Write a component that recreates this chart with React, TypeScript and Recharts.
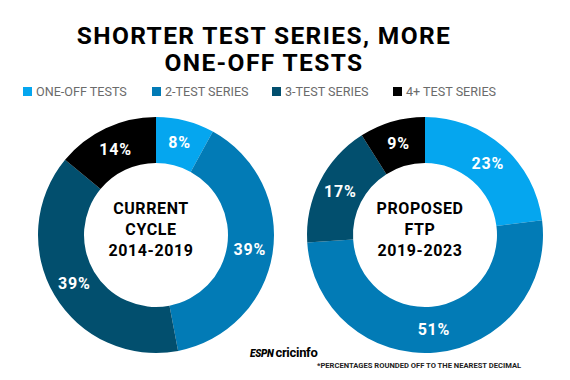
import { Pie, PieChart, Cell } from 'recharts';

const CATEGORIES = ['ONE-OFF TESTS', '2-TEST SERIES', '3-TEST SERIES', '4+ TEST SERIES'];
const COLORS = ['#05a6ef', '#027bb6', '#024f6e', '#000000'];
const CURRENT_SHARE = [8, 39, 39, 14];
const PROPOSED_SHARE = [23, 51, 17, 9];
const CURRENT_TITLE = ['CURRENT', 'CYCLE', '2014-2019'];
const PROPOSED_TITLE = ['PROPOSED', 'FTP', '2019-2023'];

const FONT = 'Roboto, "Noto Sans", sans-serif';

const currentData = CATEGORIES.map((name, i) => ({ name, value: CURRENT_SHARE[i] }));
const proposedData = CATEGORIES.map((name, i) => ({ name, value: PROPOSED_SHARE[i] }));

const RAD = Math.PI / 180;
const CY = 230;
const LEFT_CX = 151;
const RIGHT_CX = 420;

function sliceLabel(props: any) {
  const { cx, cy, midAngle, innerRadius, outerRadius, value } = props;
  const r = (innerRadius + outerRadius) / 2;
  const x = cx + r * Math.cos(-midAngle * RAD);
  const y = cy + r * Math.sin(-midAngle * RAD);
  return (
    <text
      x={x}
      y={y}
      fill="#fff"
      textAnchor="middle"
      dominantBaseline="central"
      fontFamily={FONT}
      fontWeight={700}
      fontSize={16}
      letterSpacing={0.8}
    >
      {value}%
    </text>
  );
}

function CenterTitle({ lines, cx }: { lines: string[]; cx: number }) {
  return (
    <div
      style={{
        position: 'absolute',
        left: cx - 70,
        width: 140,
        top: CY - 32,
        textAlign: 'center',
        fontSize: 16,
        fontWeight: 700,
        lineHeight: '21px',
        letterSpacing: 0.6,
        color: '#000',
      }}
    >
      {lines.map((l) => (
        <div key={l}>{l}</div>
      ))}
    </div>
  );
}

export default function App() {
  return (
    <div
      style={{
        position: 'absolute',
        left: 0,
        top: 0,
        width: 570,
        height: 380,
        background: '#fff',
        fontFamily: FONT,
      }}
    >
      <div
        style={{
          position: 'absolute',
          left: 0,
          width: 528,
          top: 22,
          textAlign: 'center',
          fontSize: 24.5,
          fontWeight: 700,
          lineHeight: '27px',
          letterSpacing: 1.4,
          color: '#000',
        }}
      >
        SHORTER TEST SERIES, MORE
        <br />
        ONE-OFF TESTS
      </div>
      <div style={{ position: 'absolute', top: 84, left: 23, height: 14 }}>
        {CATEGORIES.map((c, i) => (
          <span
            key={c}
            style={{
              position: 'absolute',
              left: [0, 129, 249, 370][i],
              top: 0,
              whiteSpace: 'nowrap',
              display: 'flex',
              alignItems: 'center',
              fontSize: 12.6,
              color: '#6b6b6b',
            }}
          >
            <span
              style={{
                display: 'inline-block',
                width: 9,
                height: 9,
                background: COLORS[i],
                marginRight: 4,
              }}
            />
            {c}
          </span>
        ))}
      </div>
      <PieChart width={570} height={380} style={{ position: 'absolute', left: 0, top: 0 }}>
        <Pie
          data={currentData}
          dataKey="value"
          nameKey="name"
          cx={LEFT_CX}
          cy={CY}
          innerRadius={72}
          outerRadius={118}
          startAngle={90}
          endAngle={-270}
          stroke="none"
          label={sliceLabel}
          labelLine={false}
          isAnimationActive={false}
        >
          {currentData.map((_, i) => (
            <Cell key={i} fill={COLORS[i]} />
          ))}
        </Pie>
        <Pie
          data={proposedData}
          dataKey="value"
          nameKey="name"
          cx={RIGHT_CX}
          cy={CY}
          innerRadius={72}
          outerRadius={118}
          startAngle={90}
          endAngle={-270}
          stroke="none"
          label={sliceLabel}
          labelLine={false}
          isAnimationActive={false}
        >
          {proposedData.map((_, i) => (
            <Cell key={i} fill={COLORS[i]} />
          ))}
        </Pie>
      </PieChart>
      <CenterTitle lines={CURRENT_TITLE} cx={LEFT_CX} />
      <CenterTitle lines={PROPOSED_TITLE} cx={RIGHT_CX} />
      <div
        style={{
          position: 'absolute',
          left: 250,
          top: 345,
          fontSize: 13,
          fontWeight: 700,
          color: '#000',
          letterSpacing: -0.3,
        }}
      >
        <span style={{ fontStyle: 'italic', fontWeight: 900, fontSize: 10, marginRight: 2 }}>ESPN</span>
        cricinfo
      </div>
      <div
        style={{
          position: 'absolute',
          left: 317,
          top: 361,
          fontSize: 7.6,
          fontWeight: 700,
          color: '#222',
          whiteSpace: 'nowrap',
        }}
      >
        *PERCENTAGES ROUNDED OFF TO THE NEAREST DECIMAL
      </div>
    </div>
  );
}
